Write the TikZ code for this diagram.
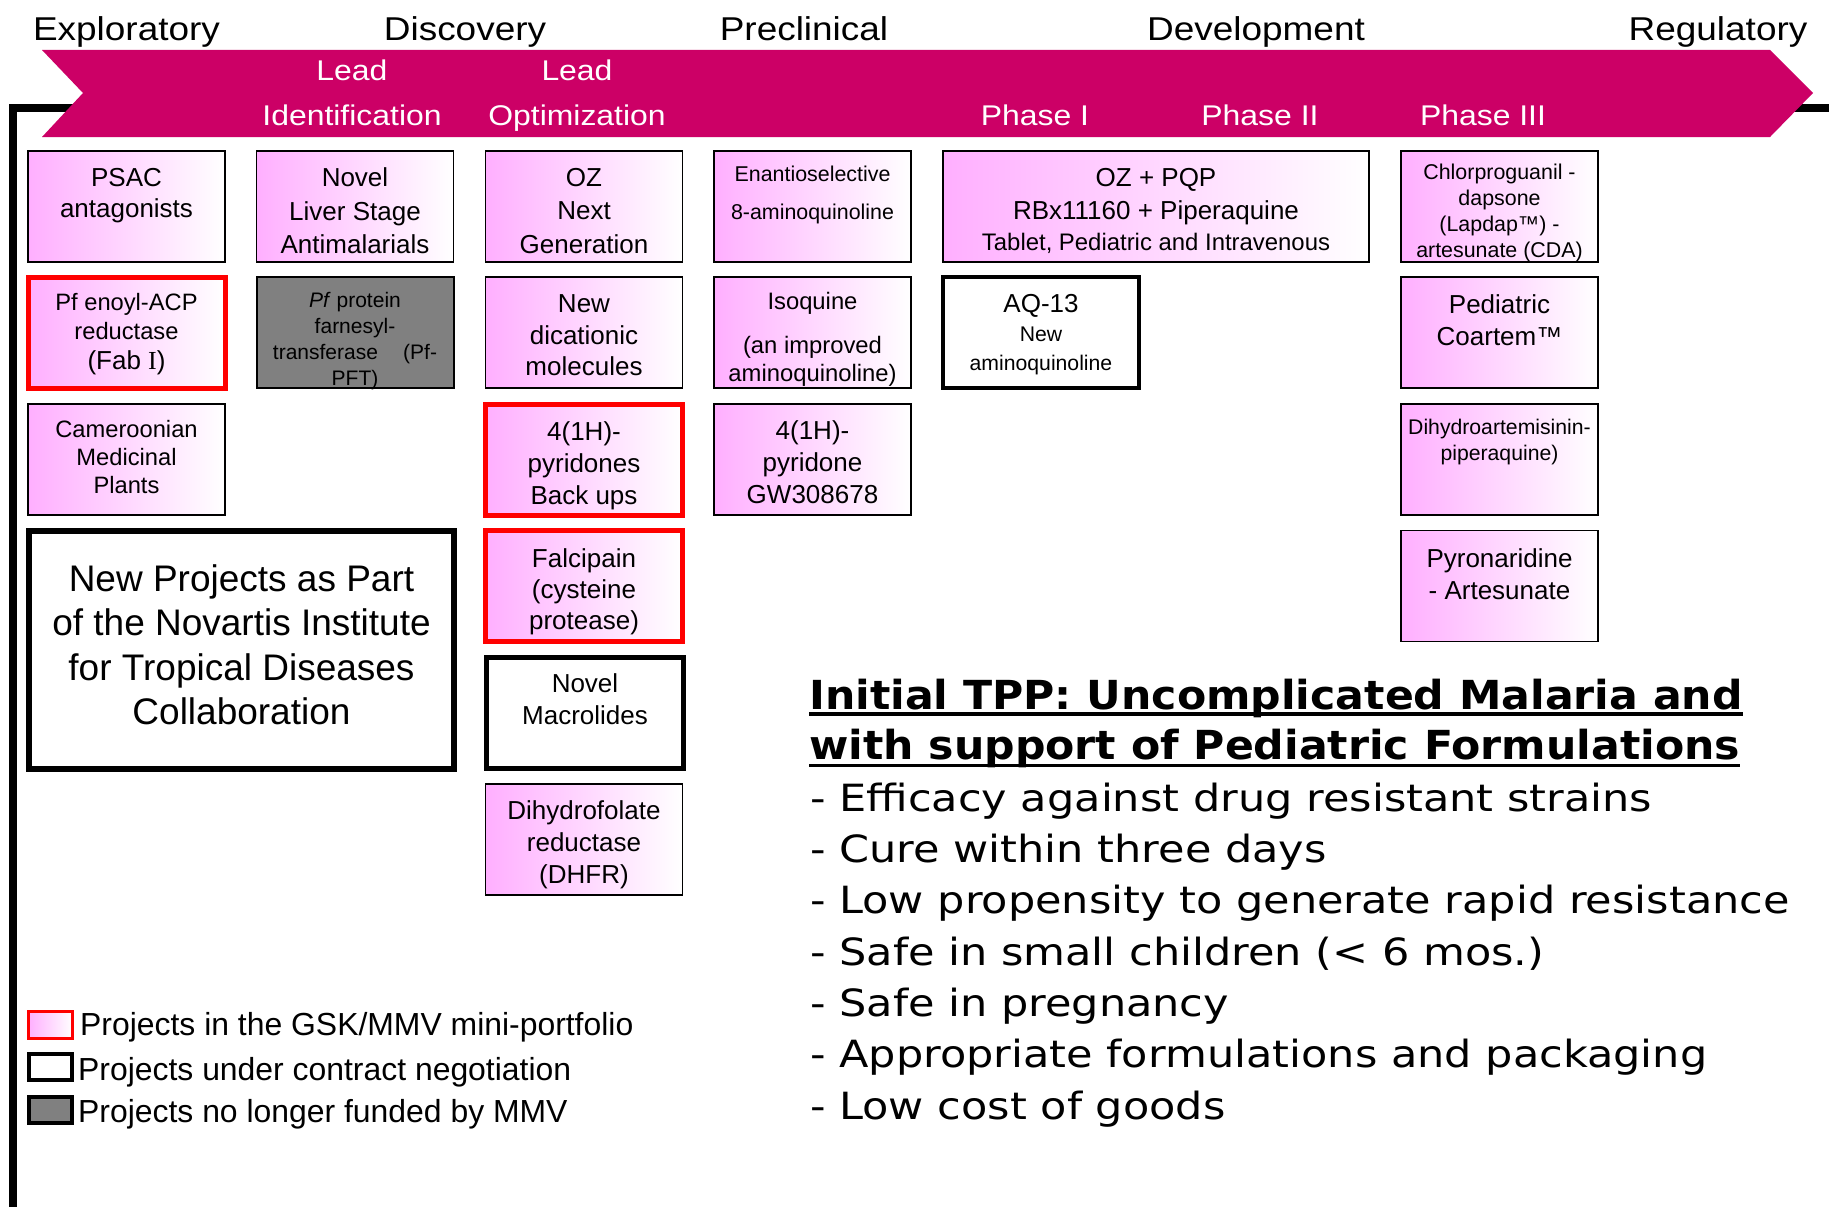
\documentclass[tikz,border=0pt]{standalone}
\usepackage{fontspec}
\setmainfont{Liberation Sans}
\newfontfamily\serifI{Liberation Serif}
\newfontfamily\hdrfont{Liberation Sans}[FakeStretch=1.12]
\newfontfamily\tppbody{DejaVu Sans}[FakeStretch=1.147]
\newfontfamily\tpphead{DejaVu Sans}[FakeStretch=1.066]
\definecolor{banner}{RGB}{204,0,102}
\definecolor{pinkL}{RGB}{255,175,255}
\definecolor{greyF}{RGB}{128,128,128}
\newcommand\fz[2]{\fontsize{#1}{#2}\selectfont}
\newcommand\ulbar[2]{\setbox0=\hbox{#1}\rlap{\rule[-#2]{\wd0}{3.5pt}}\box0}
\begin{document}
\begin{tikzpicture}[x=1pt,y=-1pt,
  pbox/.style={rectangle, draw=black, line width=1.8pt, left color=pinkL, right color=white,
    minimum width=197pt, minimum height=111pt, inner sep=0pt},
  rbox/.style={pbox, draw=red, line width=5pt},
  cbox/.style={rectangle, draw=black, line width=5pt, fill=white,
    minimum width=197pt, minimum height=111pt, inner sep=0pt},
  gbox/.style={rectangle, draw=black, line width=2pt, fill=greyF,
    minimum width=197pt, minimum height=111pt, inner sep=0pt},
  txt/.style={align=center, inner sep=0pt, text=black},
  hdr/.style={inner sep=0pt, font=\hdrfont\fz{33}{40}},
  bl/.style={inner sep=0pt, text=white, font=\hdrfont\fz{28.5}{34}},
  leg/.style={inner sep=0pt, anchor=base west, font=\fz{31.9}{38}},
  tppb/.style={inner sep=0pt, anchor=base west, font=\tppbody\fz{37.5}{51}},
  tpph/.style={inner sep=0pt, anchor=base west, font=\tpphead\bfseries\fz{40}{44}}
]
\useasboundingbox (0,0) rectangle (1829,1207);
\fill[white] (0,0) rectangle (1829,1207);

% frame line
\draw[line width=8pt] (13,1207) -- (13,108) -- (1829,108);
% banner arrow
\fill[banner] (42,50) -- (1770,50) -- (1813,93) -- (1770,137) -- (42,137) -- (83,93) -- cycle;

% stage headers
\node[hdr,anchor=base] (hExp) at (126.5,41) {Exploratory};
\node[hdr,anchor=base] (hDis) at (465,41) {Discovery};
\node[hdr,anchor=base] (hPre) at (804,41) {Preclinical};
\node[hdr,anchor=base] (hDev) at (1256,41) {Development};
\node[hdr,anchor=base] (hReg) at (1718,41) {Regulatory};

% banner labels
\node[bl,anchor=base] (bLI1) at (352,81) {Lead};
\node[bl,anchor=base] (bLI2) at (352,125) {Identification};
\node[bl,anchor=base] (bLO1) at (577,81) {Lead};
\node[bl,anchor=base] (bLO2) at (577,125) {Optimization};
\node[bl,anchor=base] (bP1) at (1035,125) {Phase I};
\node[bl,anchor=base] (bP2) at (1260,125) {Phase II};
\node[bl,anchor=base] (bP3) at (1483,125) {Phase III};

% ---------- column 1
\node[pbox] (psac) at (126.5,206.5) {};
\node[txt,font=\fz{26}{31}] (tpsac) at (126.5,195.5) {PSAC\\antagonists};
\node[rbox] (fabi) at (126.5,332.5) {};
\node[txt,font=\fz{23.7}{29.5}] (tfabi) at (126.5,334) {Pf enoyl-ACP\\reductase\\{\fz{26}{29.5}(Fab {\serifI I})}};
\node[pbox] (camer) at (126.5,459.5) {};
\node[txt,font=\fz{23.7}{28}] (tcamer) at (126.5,457) {Cameroonian\\Medicinal\\Plants};
\node[rectangle, draw=black, line width=6pt, fill=white, minimum width=425pt, minimum height=238pt, inner sep=0pt] (novartis) at (241.5,650) {};
\node[txt,font=\fz{37}{44.5}] (tnovartis) at (241.5,645) {New Projects as Part\\of the Novartis Institute\\for Tropical Diseases\\Collaboration};

% ---------- column 2
\node[pbox] (liver) at (355,206.5) {};
\node[txt,font=\fz{26}{33.5}] (tliver) at (355,211) {Novel\\Liver Stage\\Antimalarials};
\node[gbox] (pft) at (355,332.5) {};
\node[txt,font=\fz{21}{26}] (tpft) at (355,341.5) {\textit{Pf} protein\\farnesyl-\\transferase\hspace{1.2em}(Pf-\\PFT)};

% ---------- column 3
\node[pbox] (oznext) at (584,206.5) {};
\node[txt,font=\fz{26}{33.5}] (toznext) at (584,211) {OZ\\Next\\Generation};
\node[pbox] (dicat) at (584,332.5) {};
\node[txt,font=\fz{26}{31.5}] (tdicat) at (584,335.5) {New\\dicationic\\molecules};
\node[rbox] (pyrid) at (584,459.5) {};
\node[txt,font=\fz{26}{32}] (tpyrid) at (584,465.5) {4(1H)-\\pyridones\\Back ups};
\node[rbox] (falci) at (584,586) {};
\node[txt,font=\fz{26}{31}] (tfalci) at (584,591.5) {Falcipain\\(cysteine\\protease)};
\node[cbox] (macro) at (585,712.5) {};
\node[txt,font=\fz{26}{31.5}] (tmacro) at (585,699) {Novel\\Macrolides};
\node[pbox] (dhfr) at (584,839.5) {};
\node[txt,font=\fz{26}{32}] (tdhfr) at (584,844.5) {Dihydrofolate\\reductase\\(DHFR)};

% ---------- column 4
\node[pbox] (enant) at (812.5,206.5) {};
\node[txt,font=\fz{21.4}{38}] (tenant) at (812.5,194.5) {Enantioselective\\8-aminoquinoline};
\node[pbox] (isoq) at (812.5,332.5) {};
\node[txt,font=\fz{23.8}{28}] (tisoq) at (812.5,339.5) {Isoquine\\[16pt](an improved\\aminoquinoline)};
\node[pbox] (gw) at (812.5,459.5) {};
\node[txt,font=\fz{26}{32}] (tgw) at (812.5,462.5) {4(1H)-\\pyridone\\GW308678};

% ---------- development
\node[pbox, minimum width=426pt] (ozpqp) at (1156,206.5) {};
\node[txt,font=\fz{26}{33}] (tozpqp) at (1156,210.5) {OZ + PQP\\RBx11160 + Piperaquine\\[-2pt]{\fz{23.9}{30}Tablet, Pediatric and Intravenous}};
\node[cbox, line width=4.5pt, minimum width=196pt] (aq13) at (1041,332.5) {};
\node[txt,font=\fz{21.2}{29}] (taq13) at (1041,335) {{\fz{26}{29}AQ-13}\\New\\aminoquinoline};

% ---------- phase III
\node[pbox] (cda) at (1499.5,206.5) {};
\node[txt,font=\fz{21.4}{26}] (tcda) at (1499.5,212.5) {Chlorproguanil -\\dapsone\\(Lapdap™) -\\artesunate (CDA)};
\node[pbox] (coart) at (1499.5,332.5) {};
\node[txt,font=\fz{26}{31.5}] (tcoart) at (1499.5,320) {Pediatric\\Coartem™};
\node[pbox] (dhapq) at (1499.5,459.5) {};
\node[txt,font=\fz{21.2}{26}] (tdhapq) at (1499.5,442) {Dihydroartemisinin-\\piperaquine)};
\node[pbox] (pyron) at (1499.5,586) {};
\node[txt,font=\fz{26}{32}] (tpyron) at (1499.5,574) {Pyronaridine\\- Artesunate};

% ---------- legend
\node[rectangle, draw=red, line width=3pt, left color=pinkL, right color=white, minimum width=44pt, minimum height=27pt, inner sep=0pt] (lg1) at (50.5,1025) {};
\node[rectangle, draw=black, line width=4pt, fill=white, minimum width=43pt, minimum height=26pt, inner sep=0pt] (lg2) at (50.5,1067) {};
\node[rectangle, draw=black, line width=4pt, fill=greyF, minimum width=43pt, minimum height=26pt, inner sep=0pt] (lg3) at (50.5,1109.5) {};
\node[leg] (tlg1) at (80,1035) {Projects in the GSK/MMV mini-portfolio};
\node[leg] (tlg2) at (78,1080) {Projects under contract negotiation};
\node[leg] (tlg3) at (78,1122) {Projects no longer funded by MMV};

% ---------- TPP
\node[tpph] (tpp1) at (809,709) {\ulbar{Initial TPP: Uncomplicated Malaria and}{6.5pt}};
\node[tpph] (tpp2) at (809,759) {\ulbar{with support of Pediatric Formulations}{8pt}};
\node[tppb] (tb1) at (810,811) {- Efficacy against drug resistant strains};
\node[tppb] (tb2) at (810,862) {- Cure within three days};
\node[tppb] (tb3) at (810,913) {- Low propensity to generate rapid resistance};
\node[tppb] (tb4) at (810,965) {- Safe in small children (< 6 mos.)};
\node[tppb] (tb5) at (810,1016) {- Safe in pregnancy};
\node[tppb] (tb6) at (810,1067) {- Appropriate formulations and packaging};
\node[tppb] (tb7) at (810,1119) {- Low cost of goods};
\end{tikzpicture}
\end{document}
